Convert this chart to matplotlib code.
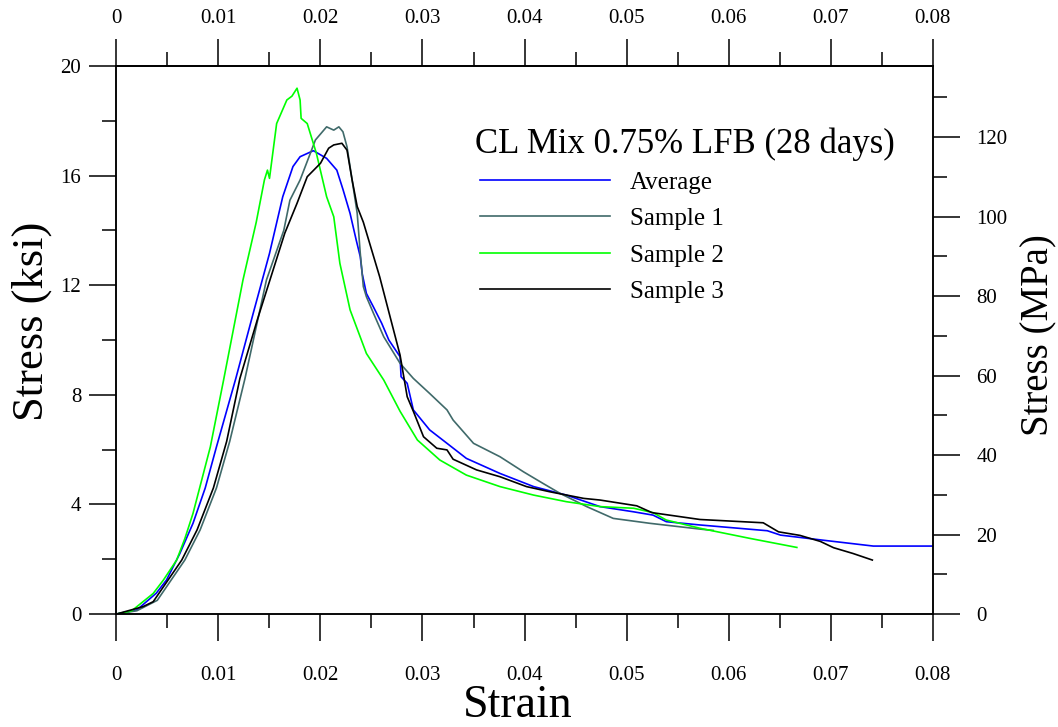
import matplotlib.pyplot as plt
from matplotlib.ticker import MultipleLocator
from matplotlib.lines import Line2D

# stress-strain curves (strain, ksi)
avg_strain = [0, 0.002, 0.0039, 0.0049, 0.0062, 0.0075, 0.0087, 0.0098, 0.0117, 0.0134,
              0.015, 0.0163, 0.0173, 0.018, 0.0193, 0.0206, 0.0216, 0.0222, 0.0229, 0.0235,
              0.0239, 0.0241, 0.0245, 0.0252, 0.026, 0.0267, 0.0278, 0.0279, 0.0285, 0.0291,
              0.0307, 0.0324, 0.0343, 0.0376, 0.0409, 0.0441, 0.0474, 0.0507, 0.0526, 0.0539,
              0.0572, 0.0638, 0.0651, 0.0696, 0.0742, 0.08]
avg_stress = [0, 0.15, 0.76, 1.24, 2.2, 3.31, 4.6, 6.1, 8.6, 10.97,
              13.16, 15.23, 16.33, 16.69, 16.91, 16.63, 16.2, 15.5, 14.62, 13.65,
              13.04, 12.4, 11.7, 11.2, 10.61, 10.0, 9.39, 8.66, 8.42, 7.45,
              6.72, 6.23, 5.68, 5.13, 4.65, 4.34, 3.92, 3.73, 3.61, 3.37,
              3.25, 3.04, 2.88, 2.68, 2.48, 2.48]

s1_strain = [0, 0.002, 0.004, 0.0067, 0.0082, 0.0098, 0.0111, 0.0126, 0.0147, 0.0164,
             0.017, 0.018, 0.019, 0.0195, 0.0206, 0.0213, 0.0218, 0.0222, 0.0226, 0.0231,
             0.0236, 0.0239, 0.0242, 0.0245, 0.0252, 0.0262, 0.0278, 0.0291, 0.0307, 0.0324,
             0.033, 0.035, 0.0376, 0.0399, 0.0418, 0.0435, 0.0461, 0.0487, 0.0523, 0.0572,
             0.0585]
s1_stress = [0, 0.12, 0.5, 1.97, 3.07, 4.6, 6.3, 8.6, 12.19, 14.0,
             15.1, 15.84, 16.81, 17.3, 17.78, 17.66, 17.78, 17.6, 17.05, 15.84,
             14.62, 13.16, 11.95, 11.58, 10.97, 10.12, 9.15, 8.6, 8.05, 7.45,
             7.08, 6.23, 5.74, 5.19, 4.77, 4.4, 3.92, 3.49, 3.31, 3.1,
             3.05]

s2_strain = [0, 0.0015, 0.0026, 0.0036, 0.0046, 0.0059, 0.0067, 0.0075, 0.0092, 0.0105,
             0.0124, 0.0137, 0.0145, 0.0148, 0.015, 0.0157, 0.0167, 0.0172, 0.0177, 0.018,
             0.0181, 0.0187, 0.0196, 0.0206, 0.0213, 0.0219, 0.0229, 0.0245, 0.0262, 0.0278,
             0.0295, 0.0317, 0.0343, 0.0376, 0.0409, 0.0441, 0.0474, 0.0507, 0.0526, 0.0539,
             0.0572, 0.0621, 0.0667]
s2_stress = [0, 0.12, 0.45, 0.75, 1.24, 1.97, 2.75, 3.67, 6.1, 8.54,
             12.19, 14.3, 15.84, 16.2, 15.9, 17.9, 18.76, 18.9, 19.19, 18.76,
             18.09, 17.9, 16.81, 15.23, 14.5, 12.8, 11.1, 9.51, 8.54, 7.4,
             6.35, 5.62, 5.07, 4.65, 4.34, 4.1, 3.92, 3.86, 3.7, 3.43,
             3.13, 2.76, 2.43]

s3_strain = [0, 0.0026, 0.0036, 0.0064, 0.0079, 0.0095, 0.0108, 0.0121, 0.0138, 0.0165,
             0.0177, 0.0187, 0.02, 0.0208, 0.0213, 0.0221, 0.0226, 0.0231, 0.0236, 0.0242,
             0.0258, 0.0278, 0.0285, 0.0291, 0.0301, 0.0314, 0.0324, 0.033, 0.0353, 0.0376,
             0.0402, 0.0425, 0.0458, 0.0474, 0.051, 0.0525, 0.0572, 0.0634, 0.0649, 0.067,
             0.069, 0.0703, 0.0722, 0.0741]
s3_stress = [0, 0.27, 0.45, 1.97, 3.07, 4.6, 6.3, 8.6, 10.73, 13.9,
             14.99, 15.96, 16.45, 17.0, 17.12, 17.18, 16.93, 15.84, 14.87, 14.3,
             12.31, 9.45, 7.93, 7.4, 6.47, 6.05, 5.99, 5.65, 5.26, 5.01,
             4.65, 4.46, 4.22, 4.16, 3.95, 3.7, 3.45, 3.33, 3.0, 2.87,
             2.65, 2.42, 2.21, 1.97]

labels = ['Average', 'Sample 1', 'Sample 2', 'Sample 3']
colors = ['#0000ff', '#406a6a', '#00ff00', '#000000']
legend_title = 'CL Mix 0.75% LFB (28 days)'

KSI_TO_MPA = 6.894757

plt.rcParams['font.family'] = ['Liberation Serif', 'DejaVu Serif']

fig = plt.figure(figsize=(10.58, 7.27), dpi=100)
ax = fig.add_axes([0.1101, 0.1554, 0.7713, 0.7538])

series = [(avg_strain, avg_stress), (s1_strain, s1_stress),
          (s2_strain, s2_stress), (s3_strain, s3_stress)]
for (x, y), c in zip(series, colors):
    ax.plot(x, y, color=c, lw=1.2)

ax.set_xlim(0, 0.08)
ax.set_ylim(0, 20)

fmt = lambda v, p: '0' if abs(v) < 1e-9 else f'{v:.2f}'
ax.xaxis.set_major_locator(MultipleLocator(0.01))
ax.xaxis.set_minor_locator(MultipleLocator(0.005))
ax.yaxis.set_major_locator(MultipleLocator(4))
ax.yaxis.set_minor_locator(MultipleLocator(2))
ax.xaxis.set_major_formatter(fmt)

ax.tick_params(which='major', direction='out', length=19.4, width=1.1, labelsize=15)
ax.tick_params(which='minor', direction='out', length=10, width=1.1)
ax.tick_params(axis='x', pad=18)
ax.tick_params(axis='y', pad=6)
for s in ax.spines.values():
    s.set_linewidth(1.1)

# top strain axis
top = ax.secondary_xaxis('top')
top.xaxis.set_major_locator(MultipleLocator(0.01))
top.xaxis.set_minor_locator(MultipleLocator(0.005))
top.xaxis.set_major_formatter(fmt)
top.tick_params(which='major', direction='out', length=19.4, width=1.1, labelsize=15, pad=8)
top.tick_params(which='minor', direction='out', length=10, width=1.1)
top.spines['top'].set_linewidth(1.1)

# right MPa axis
right = ax.twinx()
right.set_ylim(0, 20 * KSI_TO_MPA)
right.yaxis.set_major_locator(MultipleLocator(20))
right.yaxis.set_minor_locator(MultipleLocator(10))
right.tick_params(which='major', direction='out', length=19.4, width=1.1, labelsize=15, pad=12)
right.tick_params(which='minor', direction='out', length=10, width=1.1)
for s in right.spines.values():
    s.set_linewidth(1.1)

ax.set_xlabel('Strain', fontsize=33, va='center')
ax.xaxis.set_label_coords(0.492, -0.168)
ax.set_ylabel('Stress (ksi)', fontsize=32, va='center')
ax.yaxis.set_label_coords(-0.104, 0.535)
right.set_ylabel('Stress (MPa)', fontsize=28, va='center')
right.yaxis.set_label_coords(1.13, 0.509)

# legend drawn by hand to match the reference layout
ax.text(0.697, 0.857, legend_title, transform=ax.transAxes, ha='center', va='center', fontsize=25)
ys = [0.792, 0.726, 0.659, 0.593]
for lab, c, yy in zip(labels, colors, ys):
    ax.add_line(Line2D([0.4455, 0.6048], [yy, yy], transform=ax.transAxes, color=c, lw=1.2))
    ax.text(0.629, yy - 0.0055, lab, transform=ax.transAxes, ha='left', va='center', fontsize=18)

fig.savefig('out.png', dpi=100)
